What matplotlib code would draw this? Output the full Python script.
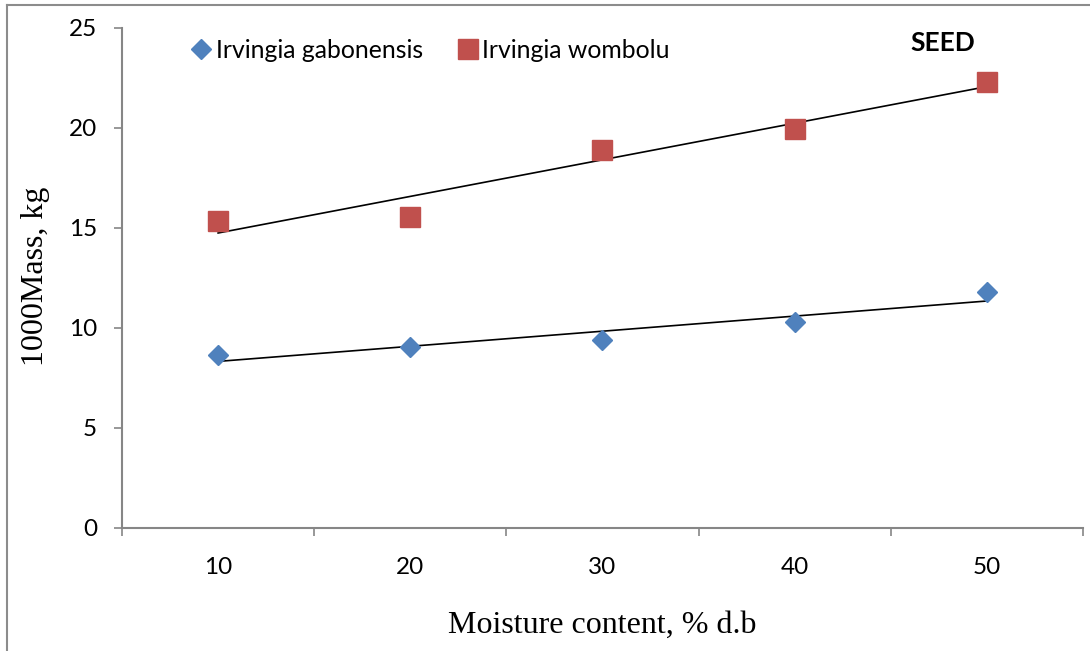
import numpy as np
import matplotlib
matplotlib.use("Agg")
import matplotlib.pyplot as plt
from matplotlib.lines import Line2D

# data
moisture = [10, 20, 30, 40, 50]
gabonensis = [8.65, 9.05, 9.4, 10.3, 11.8]
wombolu = [15.35, 15.55, 18.9, 19.95, 22.3]
x_ticks = [10, 20, 30, 40, 50]
y_ticks = [0, 5, 10, 15, 20, 25]

blue = "#4F81BD"
red = "#C0504D"
axis_grey = "#868686"

plt.rcParams['font.family'] = ['Lato', 'DejaVu Sans']

fig = plt.figure(figsize=(10.9, 6.51), dpi=100)
ax = fig.add_axes([122/1090, 1-528/651, (1083-122)/1090, (528-28)/651])

ax.plot(moisture, gabonensis, linestyle='none', marker='D', markersize=10.2,
        color=blue, label='Irvingia gabonensis')
ax.plot(moisture, wombolu, linestyle='none', marker='s', markersize=14.4,
        color=red, label='Irvingia wombolu')

# linear trend lines
xs = np.array(moisture, dtype=float)
for ys in (gabonensis, wombolu):
    k, b = np.polyfit(xs, ys, 1)
    ax.plot(xs, k*xs + b, color='black', linewidth=1.2, zorder=1)

ax.set_xlim(5, 55)
ax.set_ylim(0, 25)
ax.set_yticks(y_ticks)
ax.set_xticks([5, 15, 25, 35, 45, 55])
ax.set_xticklabels([])
ax.set_xticks(x_ticks, minor=True)
ax.set_xticklabels([str(v) for v in x_ticks], minor=True)
ax.tick_params(axis='x', which='minor', length=0, pad=21, labelsize=17.5)
ax.tick_params(axis='x', which='major', length=6, width=1.2, color=axis_grey)
ax.tick_params(axis='y', length=6, width=1.2, color=axis_grey, pad=12, labelsize=17.5)

for side in ['top', 'right']:
    ax.spines[side].set_visible(False)
for side in ['left', 'bottom']:
    ax.spines[side].set_color(axis_grey)
    ax.spines[side].set_linewidth(1.5)

ax.set_xlabel("Moisture content, % d.b", family='Liberation Serif', fontsize=23, va='center')
ax.xaxis.set_label_coords(0.5, -0.194)
ax.set_ylabel("1000Mass, kg", family='Liberation Serif', fontsize=23, va='center')
ax.yaxis.set_label_coords(-0.0895, 0.504)

ax.legend(loc='center left', bbox_to_anchor=(0.072, 0.956), ncol=2, frameon=False,
          fontsize=17.8, borderpad=0, handlelength=0.8, handletextpad=0.2,
          columnspacing=1.4, borderaxespad=0)

ax.text(943/1090, 1-43/651, "SEED", transform=fig.transFigure, ha='center', va='center',
        fontsize=19, fontweight='bold')

# outer frame (left and top edges visible)
fig.add_artist(Line2D([7/1090, 7/1090], [0, 1-5/651], transform=fig.transFigure,
                      color='#8c8c8c', linewidth=1.5))
fig.add_artist(Line2D([7/1090, 1], [1-5/651, 1-5/651], transform=fig.transFigure,
                      color='#8c8c8c', linewidth=1.5))

fig.savefig("out.png", dpi=100)
